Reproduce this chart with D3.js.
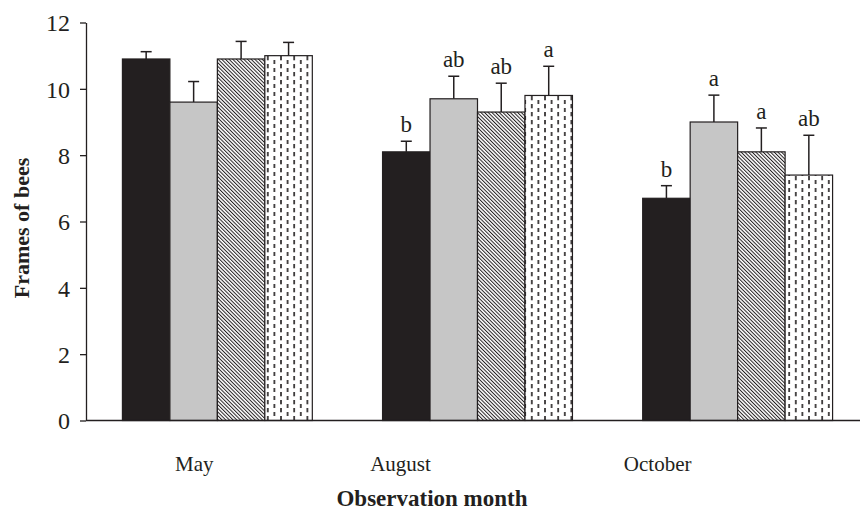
<!DOCTYPE html>
<html>
<head>
<meta charset="utf-8">
<script src="https://cdn.jsdelivr.net/npm/d3@7"></script>
<style>
  body { margin: 0; background: #fff; }
  svg text { font-family: "Liberation Serif", "Times New Roman", serif; fill: #231f20; }
</style>
</head>
<body>
<svg id="chart"></svg>
<script>
let months = ["May", "August", "October"];
let treatments = ["T1", "T2", "T3", "T4"];
let meanMay = [10.9, 9.6, 10.9, 11.0];
let meanAug = [8.1, 9.7, 9.3, 9.8];
let meanOct = [6.7, 9.0, 8.1, 7.4];
let errMay = [0.22, 0.62, 0.53, 0.4];
let errAug = [0.32, 0.68, 0.87, 0.88];
let errOct = [0.38, 0.81, 0.72, 1.2];
let letMay = ["", "", "", ""];
let letAug = ["b", "ab", "ab", "a"];
let letOct = ["b", "a", "a", "ab"];
let yTicks = [0, 2, 4, 6, 8, 10, 12];

let means = [meanMay, meanAug, meanOct],
    errs = [errMay, errAug, errOct],
    letters = [letMay, letAug, letOct];

// month labels in the original sit left of the group centres
let labelShift = [-23, -77, -80];

let svgWidth = 864, svgHeight = 511;
let axisLeft = 86, axisRight = 860, yTop = 22.5, yBottom = 420.5;

let svg = d3.select("#chart")
    .attr("width", svgWidth)
    .attr("height", svgHeight);

let defs = svg.append("defs");

let hatch = defs.append("pattern")
    .attr("id", "hatch")
    .attr("patternUnits", "userSpaceOnUse")
    .attr("width", 2.6)
    .attr("height", 10)
    .attr("patternTransform", "rotate(-45)");
hatch.append("rect").attr("width", 2.6).attr("height", 10).attr("fill", "#fff");
hatch.append("line")
    .attr("x1", 0.5).attr("y1", 0).attr("x2", 0.5).attr("y2", 10)
    .attr("stroke", "#231f20").attr("stroke-width", 1);

let dash = defs.append("pattern")
    .attr("id", "dash")
    .attr("patternUnits", "userSpaceOnUse")
    .attr("width", 13.2)
    .attr("height", 8);
dash.append("rect").attr("width", 13.2).attr("height", 8).attr("fill", "#fff");
dash.append("rect").attr("x", 3).attr("y", 0).attr("width", 1.6).attr("height", 4.3).attr("fill", "#231f20");
dash.append("rect").attr("x", 9.6).attr("y", 4).attr("width", 1.6).attr("height", 4.3).attr("fill", "#231f20");

let fills = ["#231f20", "#c6c6c6", "url(#hatch)", "url(#dash)"];

let x0 = d3.scaleBand()
    .domain(months)
    .range([axisLeft, 869])
    .paddingInner(0.27)
    .paddingOuter(0.14);

let x1 = d3.scaleBand()
    .domain(treatments)
    .range([0, x0.bandwidth()])
    .padding(0);

let y = d3.scaleLinear()
    .domain([0, 12])
    .range([yBottom, yTop]);

// rows for bars
let rows = [];
months.forEach(function(m, i) {
    treatments.forEach(function(t, j) {
        rows.push({month: m, treat: t, j: j, mean: means[i][j], err: errs[i][j], letter: letters[i][j]});
    });
});

let bars = svg.selectAll(".bar")
    .data(rows)
    .enter()
    .append("g")
    .attr("class", "bar");

bars.append("line")
    .attr("x1", function(d) { return x0(d.month) + x1(d.treat) + x1.bandwidth() / 2; })
    .attr("x2", function(d) { return x0(d.month) + x1(d.treat) + x1.bandwidth() / 2; })
    .attr("y1", function(d) { return y(d.mean); })
    .attr("y2", function(d) { return y(d.mean + d.err); })
    .attr("stroke", "#231f20")
    .attr("stroke-width", 1.5);

bars.append("line")
    .attr("x1", function(d) { return x0(d.month) + x1(d.treat) + x1.bandwidth() / 2 - 5.5; })
    .attr("x2", function(d) { return x0(d.month) + x1(d.treat) + x1.bandwidth() / 2 + 5.5; })
    .attr("y1", function(d) { return y(d.mean + d.err); })
    .attr("y2", function(d) { return y(d.mean + d.err); })
    .attr("stroke", "#231f20")
    .attr("stroke-width", 1.5);

bars.append("rect")
    .attr("x", function(d) { return x0(d.month) + x1(d.treat); })
    .attr("y", function(d) { return y(d.mean); })
    .attr("width", x1.bandwidth())
    .attr("height", function(d) { return y(0) - y(d.mean); })
    .attr("fill", function(d) { return fills[d.j]; })
    .attr("stroke", "#231f20")
    .attr("stroke-width", 1.2);

bars.append("text")
    .text(function(d) { return d.letter; })
    .attr("x", function(d) { return x0(d.month) + x1(d.treat) + x1.bandwidth() / 2; })
    .attr("y", function(d) { return y(d.mean + d.err) - 9; })
    .attr("text-anchor", "middle")
    .attr("font-size", "23px");

// y axis
let yAxis = d3.axisLeft(y)
    .tickValues(yTicks)
    .tickSize(6)
    .tickSizeOuter(0)
    .tickPadding(10);

let gy = svg.append("g")
    .attr("transform", "translate(" + axisLeft + ",0)")
    .call(yAxis);
gy.select(".domain").attr("stroke", "#231f20").attr("stroke-width", 1.3);
gy.selectAll(".tick line").attr("stroke", "#231f20").attr("stroke-width", 1.3);
gy.selectAll(".tick text")
    .attr("font-family", "Liberation Serif, serif")
    .attr("font-size", "24px")
    .attr("fill", "#231f20")
    .attr("dy", "0.34em");

// x axis baseline
svg.append("line")
    .attr("x1", axisLeft).attr("x2", axisRight)
    .attr("y1", y(0)).attr("y2", y(0))
    .attr("stroke", "#231f20")
    .attr("stroke-width", 1.3);

svg.selectAll(".month-label")
    .data(months)
    .enter()
    .append("text")
    .attr("class", "month-label")
    .text(function(d) { return d; })
    .attr("x", function(d, i) { return x0(d) + x0.bandwidth() / 2 + labelShift[i]; })
    .attr("y", 471)
    .attr("text-anchor", "middle")
    .attr("font-size", "21px");

svg.append("text")
    .text("Observation month")
    .attr("x", 432)
    .attr("y", 506)
    .attr("text-anchor", "middle")
    .attr("font-size", "23px")
    .attr("font-weight", "bold");

svg.append("text")
    .text("Frames of bees")
    .attr("transform", "translate(29,228) rotate(-90)")
    .attr("text-anchor", "middle")
    .attr("font-size", "22px")
    .attr("font-weight", "bold");
</script>
</body>
</html>
